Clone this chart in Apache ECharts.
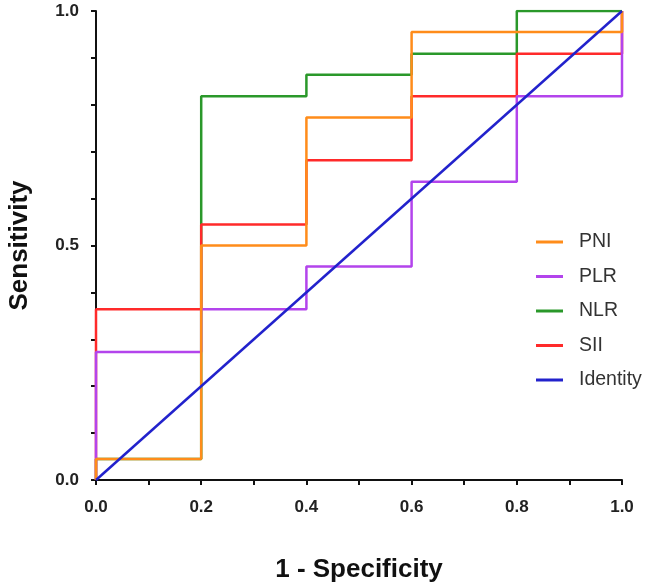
<!DOCTYPE html>
<html>
<head>
<meta charset="utf-8">
<script src="https://cdn.jsdelivr.net/npm/echarts@6/dist/echarts.min.js"></script>
<style>html,body{margin:0;padding:0;background:#fff}#c{width:650px;height:588px}</style>
</head>
<body>
<div id="c"></div>
<script>
const seriesNames = ['PNI', 'PLR', 'NLR', 'SII', 'Identity'];
const colors = ['#FF8C1A', '#B344EC', '#2A982A', '#FF2A2A', '#2222CC'];
// drawing order (higher is on top)
const stackOrder = [4, 3, 1, 2, 5];
// ROC curve corner points (1 - specificity, sensitivity)
const pniX = [0, 0, 0.2, 0.2, 0.4, 0.4, 0.6, 0.6, 1, 1];
const pniY = [0, 0.045, 0.045, 0.5, 0.5, 0.773, 0.773, 0.955, 0.955, 1];
const plrX = [0, 0, 0.2, 0.2, 0.4, 0.4, 0.6, 0.6, 0.8, 0.8, 1, 1];
const plrY = [0, 0.273, 0.273, 0.364, 0.364, 0.455, 0.455, 0.636, 0.636, 0.818, 0.818, 1];
const nlrX = [0, 0, 0.2, 0.2, 0.4, 0.4, 0.6, 0.6, 0.8, 0.8, 1];
const nlrY = [0, 0.045, 0.045, 0.818, 0.818, 0.864, 0.864, 0.909, 0.909, 1, 1];
const siiX = [0, 0, 0.2, 0.2, 0.4, 0.4, 0.6, 0.6, 0.8, 0.8, 1, 1];
const siiY = [0, 0.364, 0.364, 0.545, 0.545, 0.682, 0.682, 0.818, 0.818, 0.909, 0.909, 1];
const idX = [0, 1];
const idY = [0, 1];
const xTickLabels = ['0.0', '0.2', '0.4', '0.6', '0.8', '1.0'];
const yTickLabels = ['0.0', '0.5', '1.0'];

const xs = [pniX, plrX, nlrX, siiX, idX];
const ys = [pniY, plrY, nlrY, siiY, idY];

const chart = echarts.init(document.getElementById('c'));
const font = 'Arial, "Liberation Sans", sans-serif';
const axisCommon = {
  axisLine: { show: true, lineStyle: { color: '#111', width: 2 } },
  axisTick: { show: true, length: 5, lineStyle: { color: '#111', width: 2 } },
  splitLine: { show: false },
  nameTextStyle: { fontFamily: font, fontSize: 26, fontWeight: 'bold', color: '#111' }
};
chart.setOption({
  animation: false,
  backgroundColor: '#fff',
  grid: { left: 96, right: 28, top: 11, bottom: 108, containLabel: false, outerBoundsMode: 'none' },
  legend: {
    orient: 'vertical',
    left: 536,
    top: 231,
    padding: 0,
    icon: 'rect',
    itemWidth: 27,
    itemHeight: 3,
    itemGap: 12.5,
    data: seriesNames,
    textStyle: { fontFamily: font, fontSize: 19.5, color: '#333', lineHeight: 22, padding: [0, 0, 0, 11] }
  },
  xAxis: Object.assign({}, axisCommon, {
    type: 'value', min: 0, max: 1, interval: 0.2,
    name: '1 - Specificity', nameLocation: 'middle', nameGap: 77,
    minorTick: { show: true, splitNumber: 2, length: 5, lineStyle: { color: '#111', width: 2 } },
    axisLabel: { fontFamily: font, fontSize: 17, fontWeight: 'bold', color: '#222', margin: 19,
      formatter: v => xTickLabels[Math.round(v / 0.2)] }
  }),
  yAxis: Object.assign({}, axisCommon, {
    type: 'value', min: 0, max: 1, interval: 0.5,
    name: 'Sensitivity', nameLocation: 'middle', nameGap: 63,
    minorTick: { show: true, splitNumber: 5, length: 5, lineStyle: { color: '#111', width: 2 } },
    axisLabel: { fontFamily: font, fontSize: 17, fontWeight: 'bold', color: '#222', margin: 17,
      formatter: v => yTickLabels[Math.round(v / 0.5)] }
  }),
  series: seriesNames.map((n, i) => ({
    name: n,
    type: 'line',
    symbol: 'none',
    color: colors[i],
    lineStyle: { color: colors[i], width: 2.5 },
    data: xs[i].map((x, j) => [x, ys[i][j]]),
    z: 2 + stackOrder[i]
  }))
});
</script>
</body>
</html>
